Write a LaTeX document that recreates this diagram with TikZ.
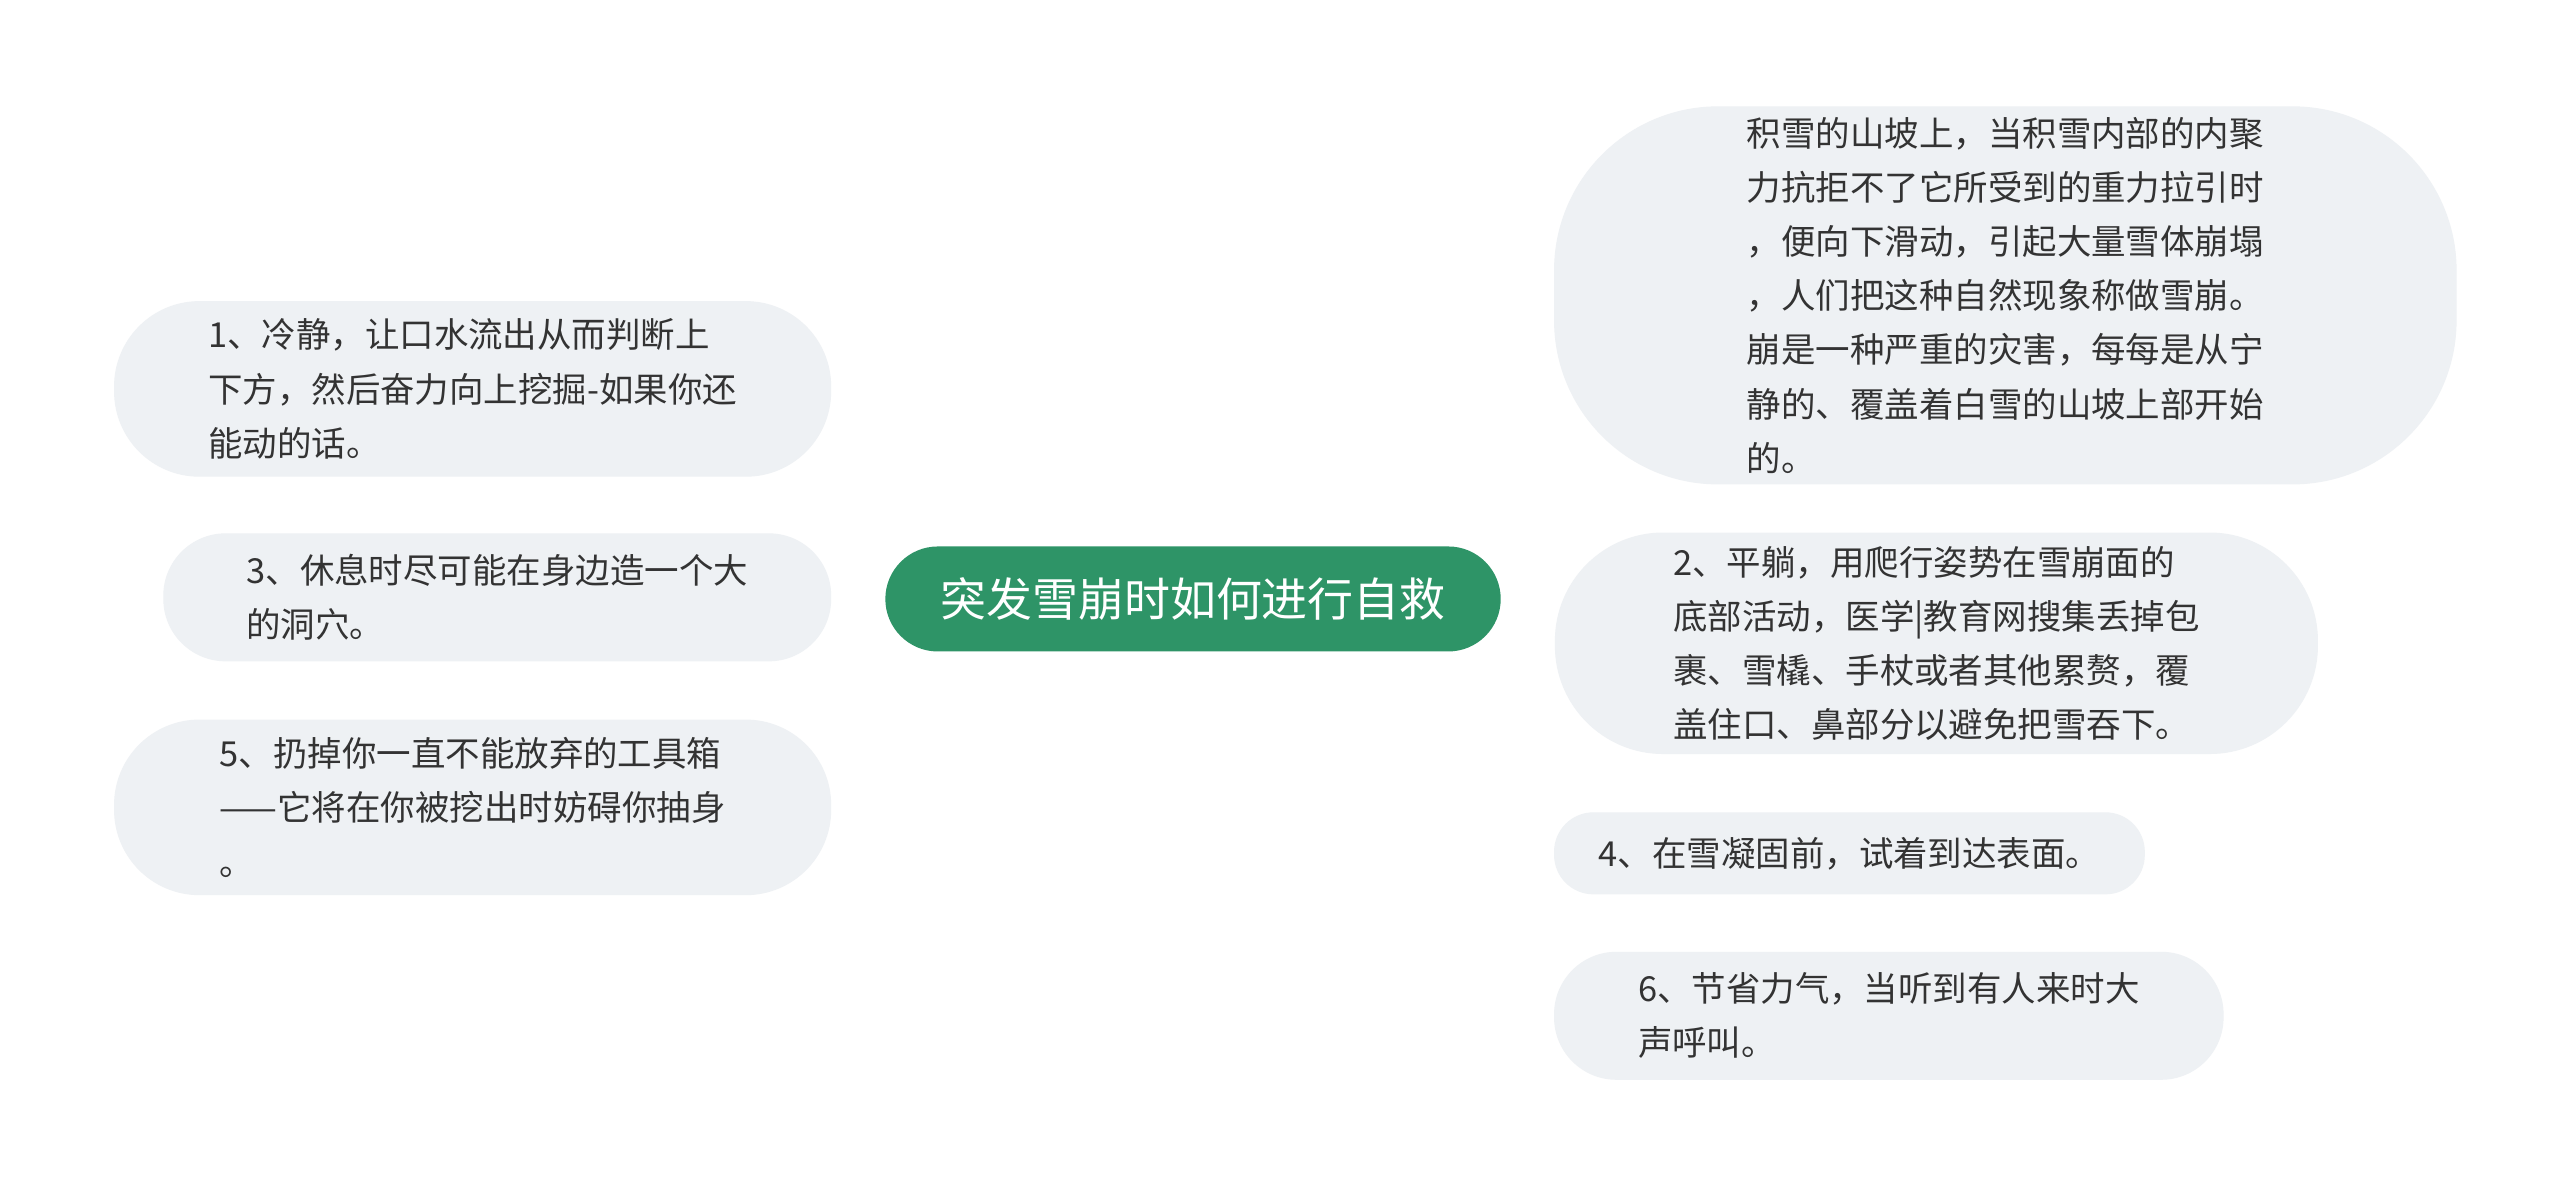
\documentclass[tikz,border=0pt]{standalone}
\usepackage{fontspec}
\setmainfont{Noto Sans CJK SC}
\usetikzlibrary{backgrounds}
\definecolor{hubgreen}{HTML}{2E9467}
\definecolor{leafgray}{HTML}{EEF1F4}
\definecolor{txtgray}{HTML}{333333}
\tikzset{
  hubbox/.style={fill=hubgreen,text=white,rounded corners=16pt,font=\fontsize{14pt}{16pt}\selectfont},
  leafbox/.style={fill=leafgray,text=txtgray,align=left,font=\fontsize{10.5pt}{16.5pt}\selectfont},
  link/.style={draw=hubgreen,line width=1.1pt}
}
\begin{document}
\begin{tikzpicture}[x=0.5pt,y=-0.5pt]
    \useasboundingbox[fill=white] (0,0) rectangle (1560,726);

    % noeud central
    \node[hubbox,minimum width=187.5pt,minimum height=32pt] (hub) at (727,365) {突发雪崩时如何进行自救};

    % branches a droite
    \node[leafbox,minimum width=275pt,minimum height=110pt,rounded corners=50pt] (snow) at (1222,180)
        {积雪的山坡上，当积雪内部的内聚\\力抗拒不了它所受到的重力拉引时\\，便向下滑动，引起大量雪体崩塌\\，人们把这种自然现象称做雪崩。\\崩是一种严重的灾害，每每是从宁\\静的、覆盖着白雪的山坡上部开始\\的。};
    \node[leafbox,minimum width=232.5pt,minimum height=67.5pt,rounded corners=33pt] (tip2) at (1180,392)
        {2、平躺，用爬行姿势在雪崩面的\\底部活动，医学|教育网搜集丢掉包\\裹、雪橇、手杖或者其他累赘，覆\\盖住口、鼻部分以避免把雪吞下。};
    \node[leafbox,minimum width=180pt,minimum height=25pt,rounded corners=12pt] (tip4) at (1127,520)
        {4、在雪凝固前，试着到达表面。};
    \node[leafbox,minimum width=204pt,minimum height=39pt,rounded corners=19pt] (tip6) at (1151,619)
        {6、节省力气，当听到有人来时大\\声呼叫。};

    % branches a gauche
    \node[leafbox,minimum width=218.5pt,minimum height=53.5pt,rounded corners=26pt] (tip1) at (288,237)
        {1、冷静，让口水流出从而判断上\\下方，然后奋力向上挖掘-如果你还\\能动的话。};
    \node[leafbox,minimum width=203.5pt,minimum height=39pt,rounded corners=19pt] (tip3) at (303,364)
        {3、休息时尽可能在身边造一个大\\的洞穴。};
    \node[leafbox,minimum width=218.5pt,minimum height=53.5pt,rounded corners=26pt] (tip5) at (288,492)
        {5、扔掉你一直不能放弃的工具箱\\——它将在你被挖出时妨碍你抽身\\。};

    % liaisons
    \begin{scope}[on background layer]
        \draw[link] (hub.center) to[out=90,in=180] (snow.west);
        \draw[link] (hub.center) to[out=-90,in=180,looseness=0.6] (tip2.west);
        \draw[link] (hub.center) to[out=-90,in=180] (tip4.west);
        \draw[link] (hub.center) to[out=-90,in=180] (tip6.west);
        \draw[link] (hub.center) to[out=90,in=0] ([yshift=2pt]tip1.east);
        \draw[link] (hub.center) -- (tip3.east);
        \draw[link] (hub.center) to[out=-90,in=0] (tip5.east);
    \end{scope}
\end{tikzpicture}
\end{document}
